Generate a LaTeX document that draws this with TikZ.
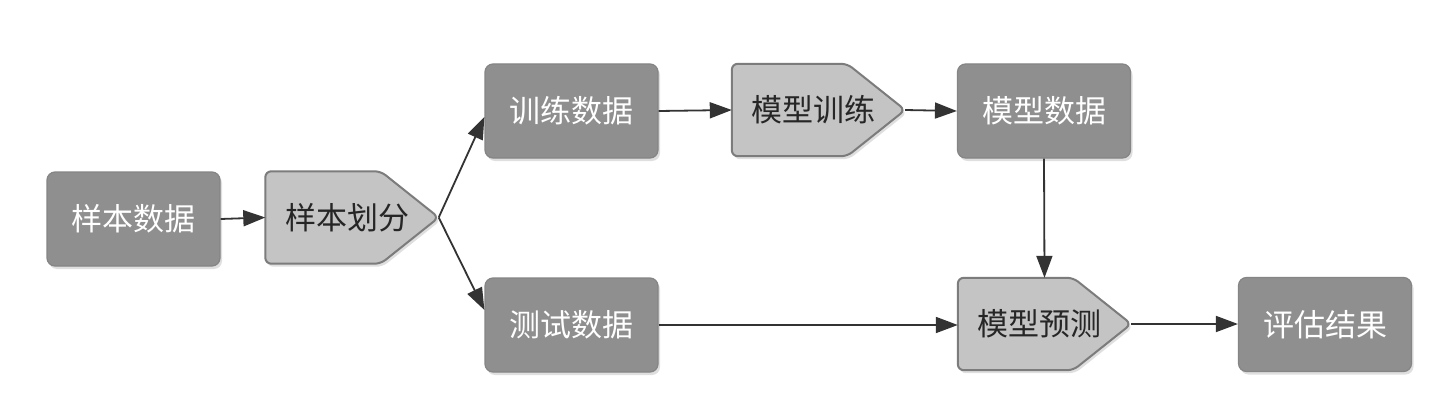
\documentclass[tikz,border=0pt]{standalone}
\usepackage{fontspec}
\newfontfamily\cjk{Noto Sans CJK SC}
\usetikzlibrary{arrows.meta,shadows,backgrounds}
\definecolor{boxgray}{HTML}{8F8F8F}
\definecolor{boxedge}{HTML}{858585}
\definecolor{pentfill}{HTML}{C4C4C4}
\definecolor{pentedge}{HTML}{7C7C7C}
\definecolor{arrgray}{HTML}{333333}
\begin{document}
\begin{tikzpicture}[x=1pt,y=-1pt,
  databox/.style={draw=boxedge, line width=1.2pt, fill=boxgray, rounded corners=8pt,
    minimum width=173pt, minimum height=94pt, inner sep=0pt, text=white,
    font=\cjk\fontsize{31}{31}\selectfont,
    drop shadow={shadow xshift=2pt, shadow yshift=-3pt, opacity=0.25}},
  pentnode/.style={minimum width=173pt, minimum height=92pt, inner sep=0pt,
    text=black!85, font=\cjk\fontsize{31}{31}\selectfont},
  pentshape/.style={draw=pentedge, line width=2pt, fill=pentfill, rounded corners=6pt,
    drop shadow={shadow xshift=2pt, shadow yshift=-3pt, opacity=0.25}},
  arr/.style={draw=arrgray, line width=1.8pt, -{Triangle[length=22pt,width=16pt]}}]
\useasboundingbox (0,0) rectangle (1444,412);

\node[databox]  (sd) at (133.5,219)  {样本数据};
\node[pentnode] (sp) at (352,217.5)  {\kern-10pt样本划分};
\node[databox]  (tr) at (571.5,111)  {训练数据};
\node[pentnode] (mt) at (818.5,110)  {\kern-10pt模型训练};
\node[databox]  (md) at (1044,111)   {模型数据};
\node[databox]  (te) at (571.5,325)  {测试数据};
\node[pentnode] (mp) at (1044.5,324) {\kern-10pt模型预测};
\node[databox]  (ev) at (1325,324.5) {评估结果};

\begin{scope}[on background layer]
\fill[white] (0,0) rectangle (1444,412);
\foreach \n in {sp,mt,mp}
  \path[pentshape] (\n.north west) -- ([xshift=-58pt]\n.north east) -- (\n.east)
     -- ([xshift=-58pt]\n.south east) -- (\n.south west) -- cycle;
\end{scope}

\draw[arr] (sd.east) -- (sp.west);
\draw[arr] (sp.east) -- ([yshift=-6pt]tr.west);
\draw[arr] (sp.east) -- ([yshift=15pt]te.west);
\draw[arr] (tr.east) -- (mt.west);
\draw[arr] (mt.east) -- (md.west);
\draw[arr] (md.south) -- (mp.north);
\draw[arr] (te.east) -- (te.east -| mp.west);
\draw[arr] (mp.east) -- (mp.east -| ev.west);
\end{tikzpicture}
\end{document}
